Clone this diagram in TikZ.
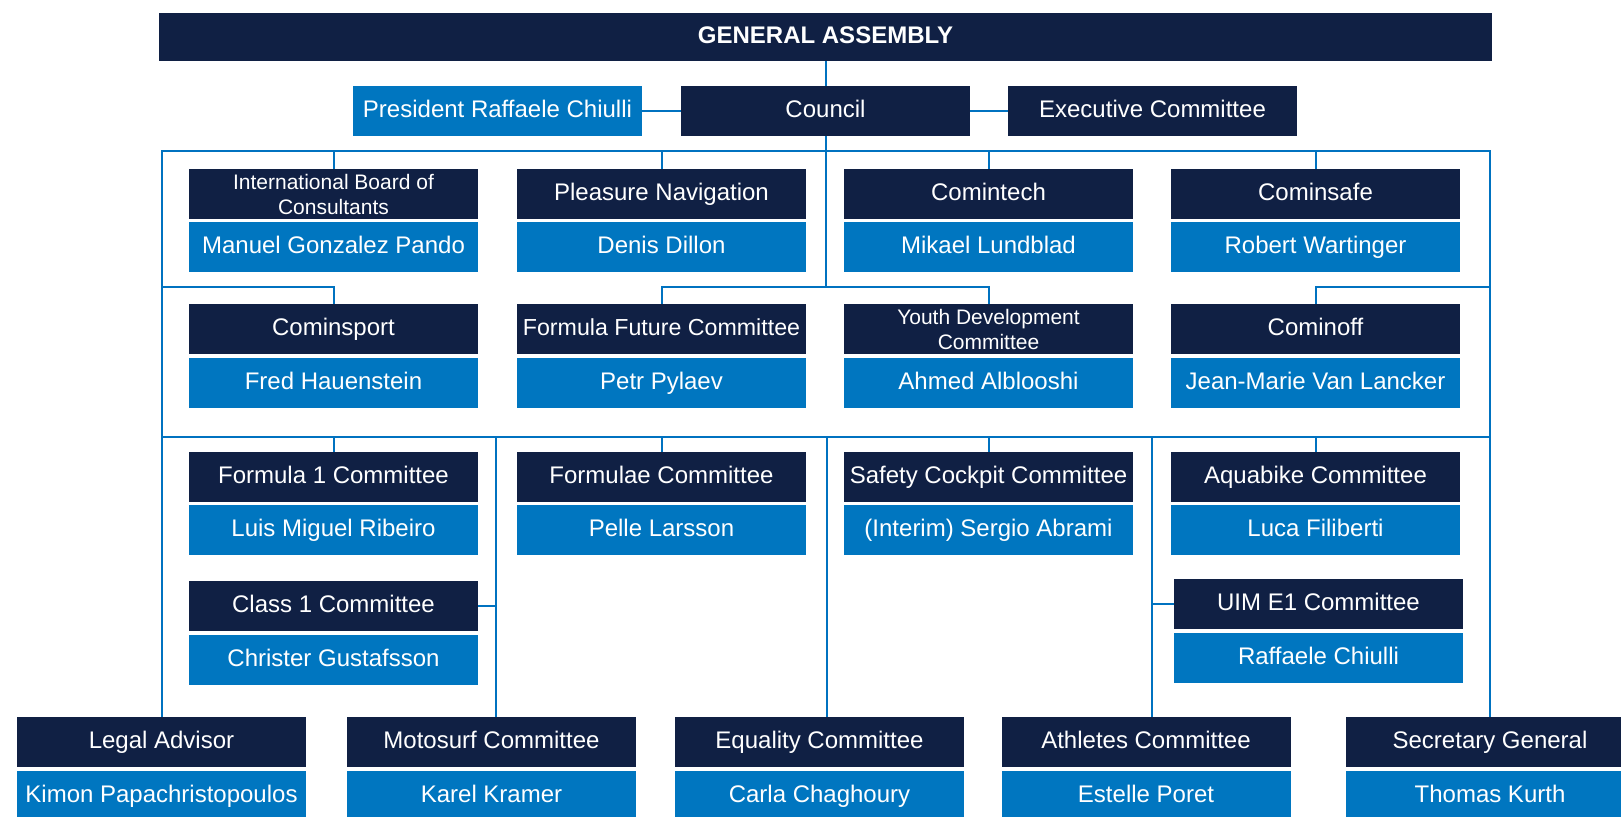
\documentclass[tikz,border=0pt]{standalone}
\usepackage{fontspec}
\setmainfont{Liberation Sans}
\definecolor{navy}{RGB}{16,32,68}
\definecolor{ublue}{RGB}{0,118,192}
\definecolor{lblue}{RGB}{0,114,192}
\tikzset{
  boxbase/.style={inner sep=0pt, minimum width=144.5pt, minimum height=25pt, text=white},
  one/.style={font=\fontsize{12}{14}\selectfont, text height=8.6pt, text depth=2.5pt},
  ttl/.style={boxbase, one, fill=navy},
  ttltwo/.style={boxbase, fill=navy, align=center, font=\fontsize{10.5}{12.5}\selectfont},
  nme/.style={boxbase, one, fill=ublue},
  link/.style={draw=lblue, line width=1pt}
}
\begin{document}
\begin{tikzpicture}[x=0.5pt,y=-0.5pt]
\useasboundingbox (0,0) rectangle (1621,816);
% top
\node[ttl, minimum width=666.5pt, minimum height=24pt, font=\bfseries\fontsize{12}{14}\selectfont] (ga) at (825.5,37) {GENERAL ASSEMBLY};
\node[nme] (pres) at (497.5,111) {President Raffaele Chiulli};
\node[ttl] (council) at (825.5,111) {Council};
\node[ttl] (exec) at (1152.5,111) {Executive Committee};
% row 1
\node[ttltwo] (ibc) at (333.5,194) {International Board of\\Consultants};
\node[nme] (ibcn) at (333.5,247) {Manuel Gonzalez Pando};
\node[ttl] (pn) at (661.5,194) {Pleasure Navigation};
\node[nme] (pnn) at (661.5,247) {Denis Dillon};
\node[ttl] (ctech) at (988.5,194) {Comintech};
\node[nme] (ctechn) at (988.5,247) {Mikael Lundblad};
\node[ttl] (csafe) at (1315.5,194) {Cominsafe};
\node[nme] (csafen) at (1315.5,247) {Robert Wartinger};
% row 2
\node[ttl] (csport) at (333.5,329) {Cominsport};
\node[nme] (csportn) at (333.5,383) {Fred Hauenstein};
\node[ttl, font=\fontsize{11.6}{14}\selectfont] (ffc) at (661.5,329) {Formula Future Committee};
\node[nme] (ffcn) at (661.5,383) {Petr Pylaev};
\node[ttltwo] (ydc) at (988.5,329) {Youth Development\\Committee};
\node[nme] (ydcn) at (988.5,383) {Ahmed Alblooshi};
\node[ttl] (coff) at (1315.5,329) {Cominoff};
\node[nme] (coffn) at (1315.5,383) {Jean-Marie Van Lancker};
% row 3
\node[ttl] (f1) at (333.5,477) {Formula 1 Committee};
\node[nme] (f1n) at (333.5,530) {Luis Miguel Ribeiro};
\node[ttl] (fe) at (661.5,477) {Formulae Committee};
\node[nme] (fen) at (661.5,530) {Pelle Larsson};
\node[ttl] (scc) at (988.5,477) {Safety Cockpit Committee};
\node[nme] (sccn) at (988.5,530) {(Interim) Sergio Abrami};
\node[ttl] (aqua) at (1315.5,477) {Aquabike Committee};
\node[nme] (aquan) at (1315.5,530) {Luca Filiberti};
% extra
\node[ttl] (c1) at (333.5,606) {Class 1 Committee};
\node[nme] (c1n) at (333.5,660) {Christer Gustafsson};
\node[ttl] (uim) at (1318.5,604) {UIM E1 Committee};
\node[nme] (uimn) at (1318.5,658) {Raffaele Chiulli};
% bottom
\node[ttl] (legal) at (161.5,742) {Legal Advisor};
\node[nme] (legaln) at (161.5,796) {Kimon Papachristopoulos};
\node[ttl] (moto) at (491.5,742) {Motosurf Committee};
\node[nme] (moton) at (491.5,796) {Karel Kramer};
\node[ttl] (eq) at (819.5,742) {Equality Committee};
\node[nme] (eqn) at (819.5,796) {Carla Chaghoury};
\node[ttl] (ath) at (1146,742) {Athletes Committee};
\node[nme] (athn) at (1146,796) {Estelle Poret};
\node[ttl] (sec) at (1490,742) {Secretary General};
\node[nme] (secn) at (1490,796) {Thomas Kurth};
% connectors
\coordinate (bT) at (0,151);
\coordinate (r2) at (0,287);
\coordinate (r3) at (0,437);
\draw[link] (ga) -- (council);
\draw[link] (pres) -- (council);
\draw[link] (council) -- (exec);
\draw[link] (legal.north) -- (legal.north |- bT) -- (sec.north |- bT) -- (sec.north);
\foreach \n in {ibc,pn,ctech,csafe} \draw[link] (\n.north |- bT) -- (\n.north);
\draw[link] (council.south) -- (council.south |- r2);
\draw[link] (legal.north |- r2) -| (csport.north);
\draw[link] (ffc.north) |- (council.south |- r2) -| (ydc.north);
\draw[link] (sec.north |- r2) -| (coff.north);
\draw[link] (legal.north |- r3) -- (sec.north |- r3);
\foreach \n in {f1,fe,scc,aqua} \draw[link] (\n.north |- r3) -- (\n.north);
\coordinate (vm) at (496,437);
\draw[link] (vm) -- (vm |- moto.north);
\draw[link] (c1.east) -- (c1.east -| vm);
\coordinate (ve) at (827,437);
\draw[link] (ve) -- (ve |- eq.north);
\coordinate (va) at (1152,437);
\draw[link] (va) -- (va |- ath.north);
\draw[link] (uim.west) -- (uim.west -| va);
\end{tikzpicture}
\end{document}
